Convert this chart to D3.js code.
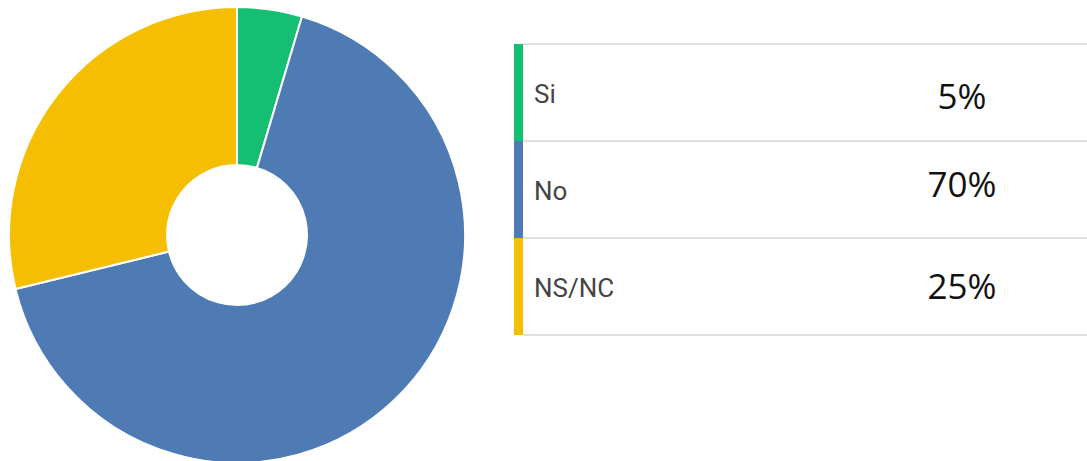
<!DOCTYPE html>
<html>
<head>
<meta charset="utf-8">
<script src="https://cdn.jsdelivr.net/npm/d3@7"></script>
<style>
  html, body { margin: 0; padding: 0; background: #fff; }
  svg { display: block; }
</style>
</head>
<body>
<svg id="chart" width="1087" height="461"></svg>
<script>
// Data
const categories = ["Si", "No", "NS/NC"];
const sliceValues = [4.6, 66.6, 28.8];       // slice sizes as drawn in the donut
const labelTexts = ["5%", "70%", "25%"];      // percentages printed in the legend table
const colors = ["#14BE72", "#4F7BB4", "#F5BE00"];

const svg = d3.select("#chart");
const W = 1087, H = 461;

// Donut
const cx = 237, cy = 235, rOuter = 228, rInner = 70;
const pie = d3.pie().sort(null).value(d => d.v);
const arcs = pie(categories.map((c, i) => ({ c, v: sliceValues[i], col: colors[i] })));
const arc = d3.arc().innerRadius(rInner).outerRadius(rOuter);
svg.append("g").attr("transform", `translate(${cx},${cy})`)
  .selectAll("path").data(arcs).join("path")
  .attr("d", arc)
  .attr("fill", d => d.data.col)
  .attr("stroke", "#fff")
  .attr("stroke-width", 2);

// Legend table
const tableLeft = 514, barW = 9, tableRight = 1087;
const y = d3.scaleBand().domain(categories).range([44, 335]).paddingInner(0).paddingOuter(0);
const g = svg.append("g");

// row separator lines
const lines = [y(categories[0])].concat(categories.map(c => y(c) + y.bandwidth()));
g.selectAll("line.sep").data(lines).join("line")
  .attr("class", "sep")
  .attr("x1", tableLeft + barW).attr("x2", tableRight)
  .attr("y1", d => d).attr("y2", d => d)
  .attr("stroke", "#d4d4d4").attr("stroke-width", 1.5);

// colour bars
g.selectAll("rect.bar").data(categories).join("rect")
  .attr("class", "bar")
  .attr("x", tableLeft).attr("width", barW)
  .attr("y", d => y(d)).attr("height", y.bandwidth())
  .attr("fill", (d, i) => colors[i]);

// category labels
g.selectAll("text.lab").data(categories).join("text")
  .attr("class", "lab")
  .attr("x", 534)
  .attr("y", d => y(d) + y.bandwidth() / 2 + 1)
  .attr("dominant-baseline", "central")
  .attr("font-family", "Roboto, sans-serif")
  .attr("font-size", 26)
  .attr("fill", "#444")
  .text(d => d);

// percentages
const pctOffset = [3, -6, -1];
g.selectAll("text.pct").data(categories).join("text")
  .attr("class", "pct")
  .attr("x", 962)
  .attr("y", (d, i) => y(d) + y.bandwidth() / 2 + pctOffset[i])
  .attr("text-anchor", "middle")
  .attr("dominant-baseline", "central")
  .attr("font-family", "'Open Sans', sans-serif")
  .attr("font-size", 35)
  .attr("fill", "#111")
  .text((d, i) => labelTexts[i]);
</script>
</body>
</html>
